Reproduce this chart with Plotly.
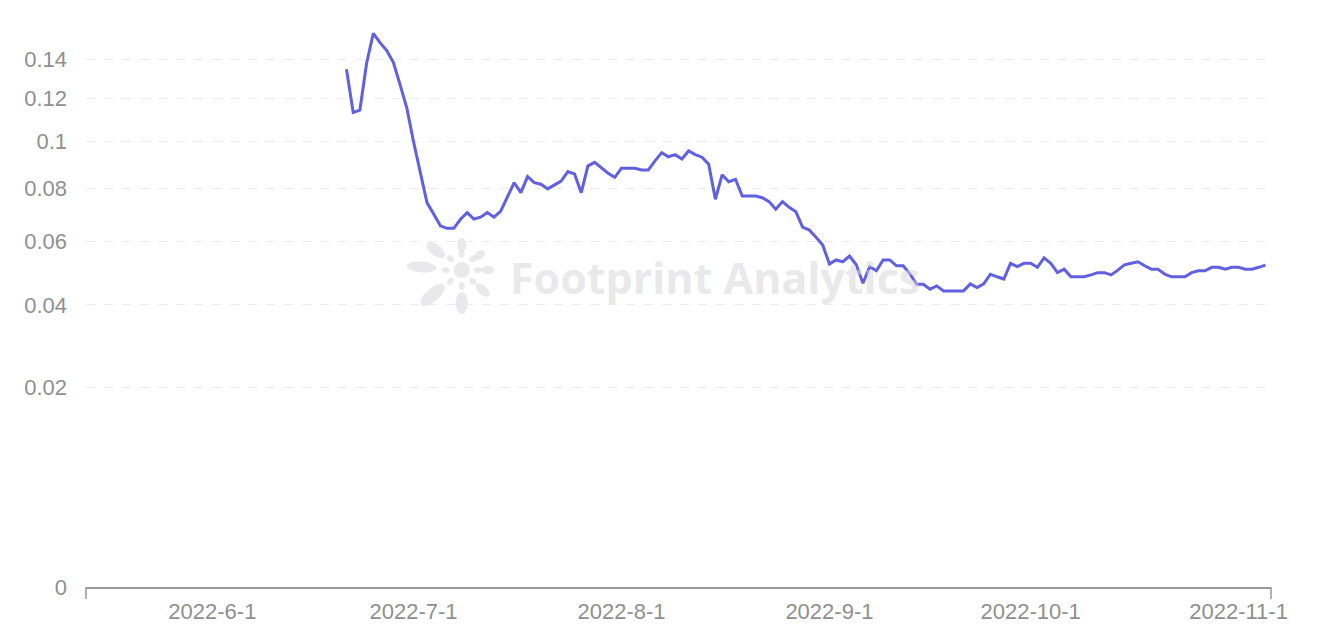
import numpy as np
import pandas as pd
import plotly.graph_objects as go

start_date = "2022-06-21"
values = [
    0.1348, 0.1132, 0.1144, 0.1380, 0.1542, 0.1490, 0.1447, 0.1383, 0.1268, 0.1153,
    0.0997, 0.0861, 0.0743, 0.0700, 0.0656, 0.0647, 0.0647, 0.0680, 0.0705, 0.0681,
    0.0688, 0.0705, 0.0688, 0.0711, 0.0766, 0.0822, 0.0782, 0.0847, 0.0822, 0.0816,
    0.0797, 0.0813, 0.0829, 0.0868, 0.0858, 0.0782, 0.0892, 0.0907, 0.0884, 0.0861,
    0.0844, 0.0882, 0.0882, 0.0882, 0.0875, 0.0875, 0.0913, 0.0949, 0.0931, 0.0940,
    0.0921, 0.0956, 0.0940, 0.0929, 0.0899, 0.0756, 0.0854, 0.0826, 0.0836, 0.0769,
    0.0769, 0.0769, 0.0762, 0.0747, 0.0718, 0.0747, 0.0725, 0.0708, 0.0651, 0.0641,
    0.0615, 0.0588, 0.0525, 0.0538, 0.0532, 0.0551, 0.0522, 0.0464, 0.0516, 0.0503,
    0.0538, 0.0538, 0.0519, 0.0519, 0.0493, 0.0461, 0.0461, 0.0446, 0.0456, 0.0441,
    0.0441, 0.0441, 0.0441, 0.0462, 0.0451, 0.0462, 0.0492, 0.0484, 0.0477, 0.0527,
    0.0516, 0.0527, 0.0527, 0.0514, 0.0545, 0.0527, 0.0497, 0.0508, 0.0484, 0.0484,
    0.0484, 0.0490, 0.0497, 0.0497, 0.0490, 0.0505, 0.0522, 0.0527, 0.0532, 0.0519,
    0.0508, 0.0508, 0.0492, 0.0484, 0.0484, 0.0484, 0.0497, 0.0503, 0.0503, 0.0514,
    0.0514, 0.0508, 0.0514, 0.0514, 0.0508, 0.0508, 0.0514, 0.0521,
]
dates = pd.date_range(start_date, periods=len(values), freq="D")

y_ticks = [0, 0.02, 0.04, 0.06, 0.08, 0.1, 0.12, 0.14]
y_tick_labels = ["0", "0.02", "0.04", "0.06", "0.08", "0.1", "0.12", "0.14"]
x_ticks = ["2022-06-01", "2022-07-01", "2022-08-01", "2022-09-01", "2022-10-01", "2022-11-01"]
x_tick_labels = ["2022-6-1", "2022-7-1", "2022-8-1", "2022-9-1", "2022-10-1", "2022-11-1"]

# square-root value scale
y_plot = np.sqrt(np.array(values))
y_tickpos = np.sqrt(np.array(y_ticks))

FONT = "Liberation Sans"
TICK_COLOR = "#8f8f8f"

W, H = 1305, 624
ML, MR, MT, MB = 78, 42, 12, 45
PW, PH = W - ML - MR, H - MT - MB

fig = go.Figure()
fig.add_trace(go.Scatter(
    x=dates, y=y_plot, mode="lines",
    line=dict(color="#6060e0", width=3),
    hoverinfo="skip",
))

fig.update_layout(
    width=W, height=H,
    margin=dict(l=ML, r=MR, t=MT, b=MB, autoexpand=False),
    paper_bgcolor="white", plot_bgcolor="white",
    showlegend=False,
    font=dict(family=FONT, size=22, color=TICK_COLOR),
    xaxis=dict(
        type="date", automargin=False,
        range=["2022-05-13 04:00", "2022-11-05 20:00"],
        tickvals=x_ticks, ticktext=x_tick_labels,
        showgrid=False, zeroline=False,
        showline=True, linecolor="#999999", linewidth=1.5,
        ticks="", ticklabelstandoff=4,
        tickfont=dict(family=FONT, size=22, color=TICK_COLOR),
    ),
    yaxis=dict(
        range=[0, 0.4021], automargin=False,
        tickvals=list(y_tickpos), ticktext=y_tick_labels,
        showgrid=True, gridcolor="#ebebeb", griddash="dash", gridwidth=1,
        zeroline=False, showline=False, ticks="",
        ticklabelstandoff=18,
        tickfont=dict(family=FONT, size=22, color=TICK_COLOR),
    ),
)

# end tick marks of the x axis
for xp in [0, 1]:
    fig.add_shape(type="line", xref="paper", yref="paper",
                  x0=xp, x1=xp, y0=0, y1=-12 / PH,
                  line=dict(color="#999999", width=1.5))

# ---- watermark (decoration) ----
WM = "rgba(215,215,218,0.55)"


def px_to_paper(px, py):
    # screen px -> paper coords (page has 8px body offset)
    return (px - 8 - ML) / PW, (H - MB - (py - 8)) / PH


def ellipse_path(cx, cy, a, b, ang_deg, n=28):
    t = np.linspace(0, 2 * np.pi, n, endpoint=False)
    ang = np.deg2rad(ang_deg)
    xs = cx + a * np.cos(t) * np.cos(ang) - b * np.sin(t) * np.sin(ang)
    ys = cy + a * np.cos(t) * np.sin(ang) + b * np.sin(t) * np.cos(ang)
    pts = [px_to_paper(x, y) for x, y in zip(xs, ys)]
    return "M " + " L ".join(f"{x:.5f},{y:.5f}" for x, y in pts) + " Z"


logo_cx, logo_cy = 461.7, 270
# (dx, dy, half-length, half-width)
outer_petals = [(-40, -3, 15, 5.5), (-26, -20, 11, 5.5), (0, -25, 7, 4.5), (18, -15, 6, 4),
                (26, 0, 6.5, 4), (21, 20, 8.5, 4.5), (0, 33, 11, 6), (-29, 25, 15, 6.5)]
for dx, dy, a, b in outer_petals:
    ang = np.rad2deg(np.arctan2(dy, dx))
    fig.add_shape(type="path", xref="paper", yref="paper", layer="below",
                  path=ellipse_path(logo_cx + dx, logo_cy + dy, a, b, ang),
                  fillcolor=WM, line=dict(width=0))
for k in range(8):
    ang = k * 45
    r = 16
    fig.add_shape(type="path", xref="paper", yref="paper", layer="below",
                  path=ellipse_path(logo_cx + r * np.cos(np.deg2rad(ang)),
                                    logo_cy + r * np.sin(np.deg2rad(ang)), 4, 3, ang),
                  fillcolor=WM, line=dict(width=0))
fig.add_shape(type="path", xref="paper", yref="paper", layer="below",
              path=ellipse_path(logo_cx, logo_cy, 8, 8, 0),
              fillcolor=WM, line=dict(width=0))

tx, ty = px_to_paper(715, 277)
fig.add_annotation(xref="paper", yref="paper", x=tx, y=ty,
                   text="<b>Footprint Analytics</b>", showarrow=False,
                   font=dict(family="Open Sans", size=43, color=WM),
                   xanchor="center", yanchor="middle")

fig.write_html("out.html")
